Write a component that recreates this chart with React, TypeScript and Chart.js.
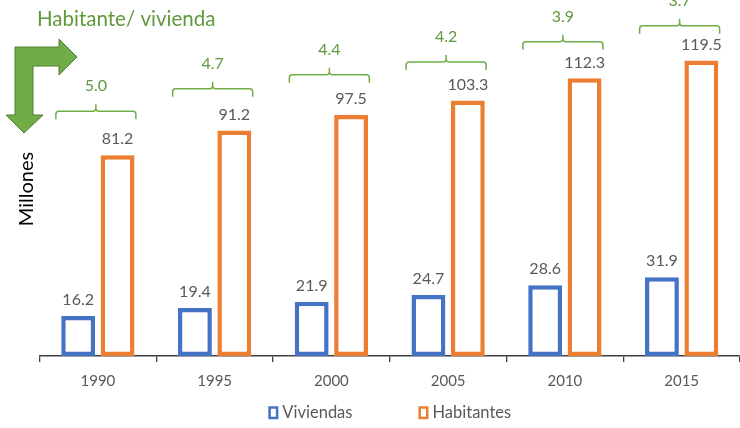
import React, { useEffect, useRef } from "react";
import { Chart, registerables } from "chart.js";

Chart.register(...registerables);

const categories = ["1990", "1995", "2000", "2005", "2010", "2015"];
const viviendas = [16.2, 19.4, 21.9, 24.7, 28.6, 31.9];
const habitantes = [81.2, 91.2, 97.5, 103.3, 112.3, 119.5];
const ratioLabels = ["5.0", "4.7", "4.4", "4.2", "3.9", "3.7"];
const seriesNames = ["Viviendas", "Habitantes"];
const ratioTitle = "Habitante/ vivienda";
const yAxisTitle = "Millones";

const FONT = "Lato, 'Open Sans', sans-serif";
const BLUE = "#4472C4";
const ORANGE = "#ED7D31";
const GREEN = "#70AD47";
const GREEN_TEXT = "#5E9A3C";
const GRAY = "#595959";

const overlayPlugin = {
  id: "overlay",
  afterDraw(chart: any) {
    const ctx = chart.ctx as CanvasRenderingContext2D;
    const area = chart.chartArea;
    const m0 = chart.getDatasetMeta(0);
    const m1 = chart.getDatasetMeta(1);
    ctx.save();

    // value labels
    ctx.font = `16px ${FONT}`;
    ctx.fillStyle = GRAY;
    ctx.textAlign = "center";
    ctx.textBaseline = "middle";
    [m0, m1].forEach((m: any, di: number) => {
      m.data.forEach((el: any, i: number) => {
        const v = chart.data.datasets[di].data[i] as number;
        ctx.fillText(v.toFixed(1), el.x, el.y - 16);
      });
    });

    // brackets + ratio labels
    ctx.strokeStyle = GREEN;
    ctx.lineWidth = 1.5;
    m1.data.forEach((el: any, i: number) => {
      const b = m0.data[i];
      const cx = (b.x + el.x) / 2 - 2;
      const lift = 34.7 + 0.0986 * (el.y - 59.7);
      const y = el.y - lift;
      const hw = 40;
      const r = 3;
      const x0 = cx - hw;
      const x1 = cx + hw;
      ctx.beginPath();
      ctx.moveTo(x0, y + 8);
      ctx.arcTo(x0, y, x0 + r, y, r);
      ctx.arcTo(cx, y, cx, y - r, r);
      ctx.lineTo(cx, y - 7);
      ctx.moveTo(x1, y + 8);
      ctx.arcTo(x1, y, x1 - r, y, r);
      ctx.arcTo(cx, y, cx, y - r, r);
      ctx.stroke();
      ctx.font = `16px ${FONT}`;
      ctx.fillStyle = GREEN_TEXT;
      ctx.textAlign = "center";
      ctx.textBaseline = "middle";
      ctx.fillText(ratioLabels[i], cx, y - 25);
    });

    // title for ratios
    ctx.font = `20.5px ${FONT}`;
    ctx.fillStyle = GREEN_TEXT;
    ctx.textAlign = "left";
    ctx.textBaseline = "middle";
    ctx.fillText(ratioTitle, 37, 19);

    // bent arrow
    ctx.beginPath();
    const pts = [
      [15, 47], [59, 47], [59, 39], [77, 57], [59, 75], [59, 66],
      [33, 66], [33, 115], [43, 115], [24, 133], [6, 115], [15, 115],
    ];
    pts.forEach(([px, py], k) => (k ? ctx.lineTo(px, py) : ctx.moveTo(px, py)));
    ctx.closePath();
    ctx.fillStyle = GREEN;
    ctx.fill();
    ctx.strokeStyle = "#507E32";
    ctx.lineWidth = 1;
    ctx.stroke();

    // y axis title
    ctx.save();
    ctx.translate(27, 189);
    ctx.rotate(-Math.PI / 2);
    ctx.font = `20px ${FONT}`;
    ctx.fillStyle = "#000000";
    ctx.textAlign = "center";
    ctx.textBaseline = "middle";
    ctx.fillText(yAxisTitle, 0, 0);
    ctx.restore();

    // legend
    ctx.font = `16.5px ${FONT}`;
    const colors = [BLUE, ORANGE];
    const boxW = 10;
    const gapText = 4;
    const itemGap = 66;
    const widths = seriesNames.map((n) => boxW + gapText + ctx.measureText(n).width);
    const total = widths.reduce((a, w) => a + w, 0) + itemGap * (seriesNames.length - 1);
    let lx = (area.left + area.right) / 2 - total / 2;
    const ly = 413;
    seriesNames.forEach((n, k) => {
      ctx.strokeStyle = colors[k];
      ctx.lineWidth = 2.5;
      ctx.fillStyle = "#FFFFFF";
      ctx.fillRect(lx + 1.25, ly - 5.5, boxW - 2.5, 10.5);
      ctx.strokeRect(lx + 1.25, ly - 5.5, boxW - 2.5, 10.5);
      ctx.fillStyle = GRAY;
      ctx.textAlign = "left";
      ctx.textBaseline = "middle";
      ctx.fillText(n, lx + boxW + gapText, ly);
      lx += widths[k] + itemGap;
    });

    ctx.restore();
  },
};

export default function App() {
  const ref = useRef<HTMLCanvasElement | null>(null);
  useEffect(() => {
    if (!ref.current) return;
    const chart = new Chart(ref.current, {
      type: "bar",
      data: {
        labels: categories,
        datasets: [
          {
            label: seriesNames[0],
            data: viviendas,
            backgroundColor: "#FFFFFF",
            borderColor: BLUE,
            borderWidth: 4.5,
            borderSkipped: false,
            barPercentage: 0.86,
            categoryPercentage: 0.675,
          },
          {
            label: seriesNames[1],
            data: habitantes,
            backgroundColor: "#FFFFFF",
            borderColor: ORANGE,
            borderWidth: 4.5,
            borderSkipped: false,
            barPercentage: 0.86,
            categoryPercentage: 0.675,
          },
        ],
      },
      options: {
        responsive: false,
        animation: false,
        layout: { padding: { left: 39.5, right: -2, top: 0, bottom: 28 } },
        plugins: {
          legend: { display: false },
          tooltip: { enabled: false },
          title: { display: false },
        },
        scales: {
          x: {
            grid: {
              display: true,
              drawOnChartArea: false,
              drawTicks: true,
              tickLength: 6,
              color: "#404040",
              lineWidth: 1.3,
              offset: true,
            },
            border: { display: true, color: "#404040", width: 1.5 },
            ticks: { color: GRAY, font: { family: FONT, size: 15 }, padding: 10 },
          },
          y: { display: false, min: 0, max: 144 },
        },
      },
      plugins: [overlayPlugin],
    });
    return () => chart.destroy();
  }, []);
  return (
    <div style={{ position: "absolute", left: 0, top: 0, width: 740, height: 428, background: "#fff" }}>
      <canvas ref={ref} width={740} height={428} style={{ display: "block" }} />
    </div>
  );
}
